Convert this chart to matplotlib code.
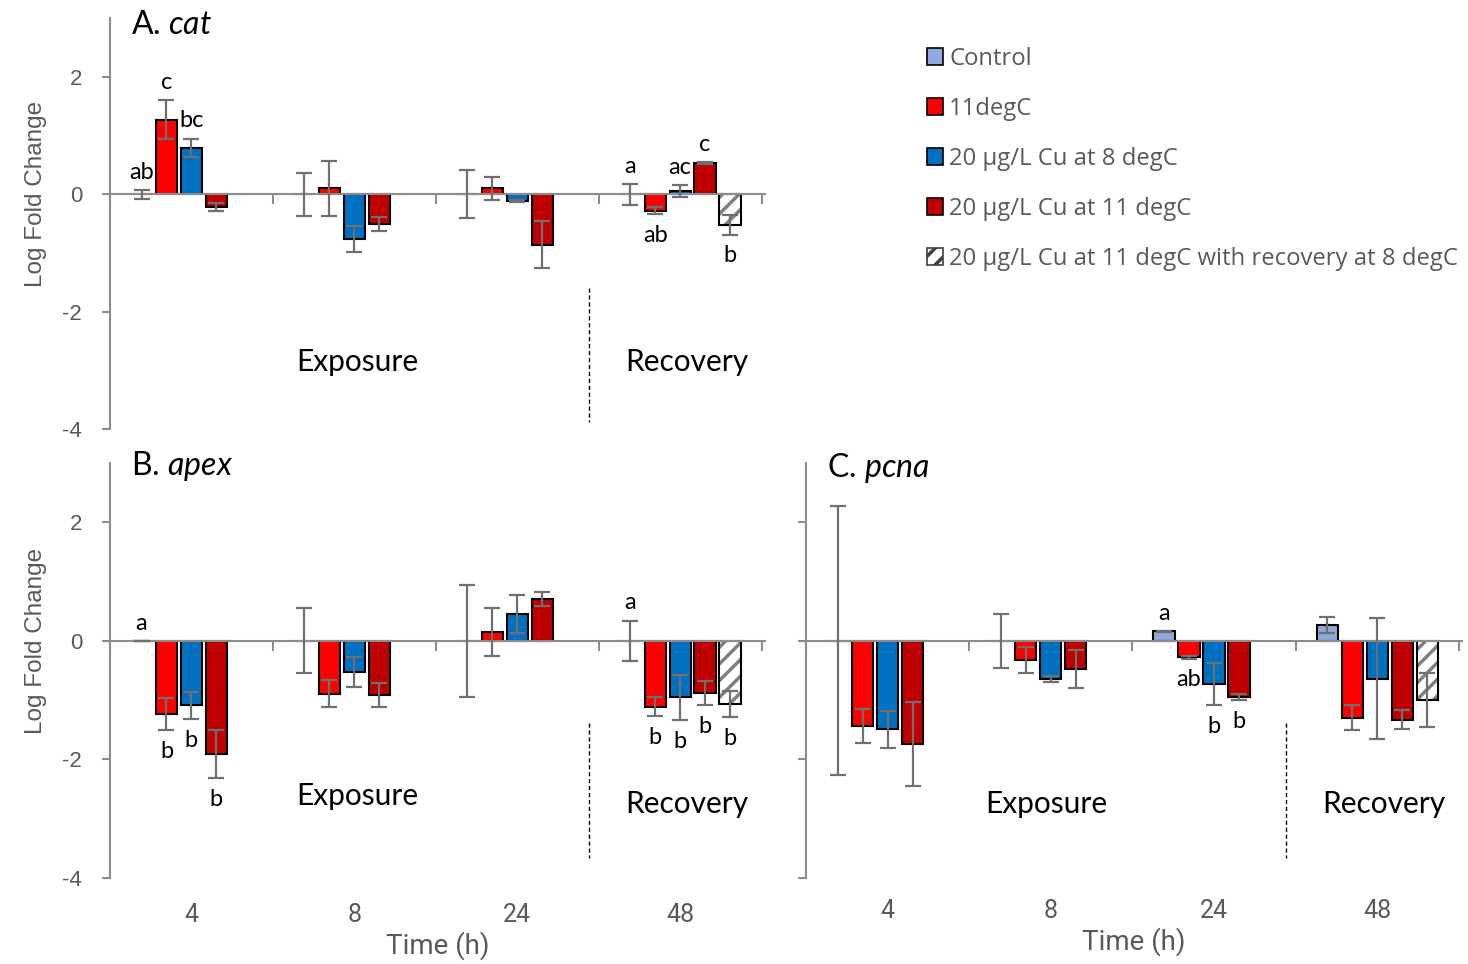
import numpy as np
import matplotlib
matplotlib.use("Agg")
import matplotlib.pyplot as plt
from matplotlib.patches import Patch

plt.rcParams["mathtext.fontset"] = "custom"
plt.rcParams["mathtext.rm"] = "Lato"
plt.rcParams["mathtext.it"] = "Lato:italic"
plt.rcParams["hatch.linewidth"] = 2.5

times = ["4", "8", "24", "48"]
series = ["Control", "11degC", "20 μg/L Cu at 8 degC", "20 μg/L Cu at 11 degC",
          "20 μg/L Cu at 11 degC with recovery at 8 degC"]
colors = ["#8EA9DB", "#FF0000", "#0070C0", "#C00000", "white"]
nan = np.nan

# A. cat  (rows = series, cols = time)
cat_mean = [[0.00, 0.00, 0.00, 0.00],
            [1.27, 0.10, 0.10, -0.28],
            [0.79, -0.76, -0.11, 0.06],
            [-0.21, -0.50, -0.86, 0.53],
            [nan, nan, nan, -0.52]]
cat_err = [[0.08, 0.37, 0.41, 0.18],
           [0.33, 0.47, 0.20, 0.06],
           [0.16, 0.22, 0.02, 0.10],
           [0.07, 0.12, 0.40, 0.02],
           [nan, nan, nan, 0.17]]
cat_letters = [(0, 0, "ab"), (1, 0, "c"), (2, 0, "bc"), (0, 3, "a"), (1, 3, "ab"),
               (2, 3, "ac"), (3, 3, "c"), (4, 3, "b")]

# B. apex
apex_mean = [[0.00, 0.00, 0.00, 0.00],
             [-1.23, -0.89, 0.15, -1.11],
             [-1.09, -0.52, 0.46, -0.95],
             [-1.91, -0.91, 0.70, -0.88],
             [nan, nan, nan, -1.06]]
apex_err = [[0.00, 0.55, 0.94, 0.34],
            [0.27, 0.23, 0.41, 0.16],
            [0.23, 0.25, 0.32, 0.38],
            [0.40, 0.20, 0.12, 0.21],
            [nan, nan, nan, 0.22]]
apex_letters = [(0, 0, "a"), (1, 0, "b"), (2, 0, "b"), (3, 0, "b"), (0, 3, "a"),
                (1, 3, "b"), (2, 3, "b"), (3, 3, "b"), (4, 3, "b")]

# C. pcna
pcna_mean = [[0.00, 0.00, 0.16, 0.27],
             [-1.44, -0.33, -0.28, -1.30],
             [-1.49, -0.64, -0.73, -0.64],
             [-1.74, -0.48, -0.95, -1.33],
             [nan, nan, nan, -1.00]]
pcna_err = [[2.27, 0.45, 0.01, 0.13],
            [0.29, 0.22, 0.02, 0.21],
            [0.31, 0.05, 0.36, 1.02],
            [0.71, 0.32, 0.05, 0.16],
            [nan, nan, nan, 0.45]]
pcna_letters = [(0, 2, "a"), (1, 2, "ab"), (2, 2, "b"), (3, 2, "b")]

axis_gray = "#8c8c8c"
text_gray = "#595959"
slot = 0.153
width = 0.13


def draw_panel(ax, mean, err, letters, title, ylabels, xlabels, text_y):
    mean = np.array(mean, dtype=float)
    err = np.array(err, dtype=float)
    x = np.arange(len(times))
    for k in range(len(series)):
        pos = x + (k - 2) * slot
        if k == 4:
            ax.bar(pos, mean[k], width, color="white", edgecolor="#808080",
                   hatch="//", linewidth=0, zorder=1)
            ax.bar(pos, mean[k], width, color="none", edgecolor="black",
                   linewidth=1.5, zorder=1.2)
        else:
            ax.bar(pos, mean[k], width, color=colors[k], edgecolor="black",
                   linewidth=1.5, zorder=1)
        ax.errorbar(pos, mean[k], yerr=err[k], fmt="none", ecolor="#6f6f6f",
                    elinewidth=1.6, capsize=5.5, capthick=1.6, zorder=3)
    for k, t, s in letters:
        v, e = mean[k, t], err[k, t]
        px = t + (k - 2) * slot
        if v >= 0:
            ax.text(px, v + e + 0.3, s, ha="center", va="center",
                    fontsize=17, family="Lato")
        else:
            ax.text(px, v - e - 0.36, s, ha="center", va="center",
                    fontsize=17, family="Lato")

    ax.set_xlim(-0.5, 3.52)
    ax.set_ylim(-4, 3)
    for side in ["top", "right"]:
        ax.spines[side].set_visible(False)
    ax.spines["left"].set_color(axis_gray)
    ax.spines["left"].set_linewidth(1.5)
    ax.spines["bottom"].set_position(("data", 0))
    ax.spines["bottom"].set_color(axis_gray)
    ax.spines["bottom"].set_linewidth(1.5)
    ax.spines["bottom"].set_zorder(2.5)

    ax.set_yticks([-4, -2, 0, 2])
    if ylabels:
        ax.set_yticklabels(["-4", "-2", "0", "2"])
        ax.set_ylabel("Log Fold Change", fontsize=17.5, color=text_gray,
                      family="Liberation Sans")
        ax.yaxis.set_label_coords(-0.096, 4 / 7)
    else:
        ax.set_yticklabels([])
    ax.tick_params(axis="y", length=6, width=1.5, color=axis_gray,
                   labelsize=16, labelcolor=text_gray, pad=14)
    for lab in ax.get_yticklabels():
        lab.set_family("Liberation Sans")

    ax.set_xticks([])
    ax.set_xticks(np.arange(-0.5, 4, 1), minor=True)
    ax.tick_params(axis="x", which="minor", length=7, width=1.5,
                   color=axis_gray, direction="out")

    if xlabels is not None:
        sec = ax.secondary_xaxis("bottom")
        sec.set_xticks(x, times)
        sec.spines["bottom"].set_visible(False)
        sec.tick_params(length=0, pad=xlabels, labelsize=18,
                        labelcolor=text_gray)
        sec.set_xlabel("Time (h)", fontsize=20, color=text_gray,
                       family="Roboto", labelpad=3)
        for lab in sec.get_xticklabels():
            lab.set_family("Roboto")

    ax.text(-0.37, text_y[0], title, fontsize=23, family="Lato", va="center")
    ax.text(text_y[1], text_y[2], "Exposure", fontsize=21.5, family="Lato",
            ha="center", va="center")
    ax.text(3.04, text_y[3], "Recovery", fontsize=21.5, family="Lato",
            ha="center", va="center")
    ax.plot([2.44, 2.44], [text_y[4], text_y[5]], color="black", lw=1.0,
            ls=(0, (3, 2)))


fig = plt.figure(figsize=(14.68, 9.64), dpi=100)
ax_a = fig.add_axes([0.0749, 0.555, 0.4461, 0.426])
ax_b = fig.add_axes([0.0749, 0.0892, 0.4461, 0.4305])
ax_c = fig.add_axes([0.549, 0.0892, 0.4470, 0.4305])

draw_panel(ax_a, cat_mean, cat_err, cat_letters, r"A. $\mathit{cat}$", True, None,
           [2.88, 1.02, -2.85, -2.85, -1.6, -3.88])
draw_panel(ax_b, apex_mean, apex_err, apex_letters, r"B. $\mathit{apex}$", True, 18,
           [2.95, 1.02, -2.62, -2.75, -1.39, -3.67])
draw_panel(ax_c, pcna_mean, pcna_err, pcna_letters, r"C. $\mathit{pcna}$", False, 15,
           [2.92, 0.97, -2.75, -2.75, -1.39, -3.67])

handles = []
for k in range(len(series)):
    if k == 4:
        handles.append(Patch(facecolor="white", edgecolor="#404040", hatch="//",
                             linewidth=1.2))
    else:
        handles.append(Patch(facecolor=colors[k], edgecolor="black", linewidth=1.2))
leg = fig.legend(handles, series, loc="upper left",
                 bbox_to_anchor=(917 / 1468, 1 - 37 / 964), frameon=False,
                 prop={"family": "Open Sans", "size": 17.2}, handlelength=0.7,
                 handleheight=0.7, handletextpad=0.25, labelspacing=1.09,
                 borderaxespad=0)
for t in leg.get_texts():
    t.set_color(text_gray)

fig.savefig("out.png", dpi=100)
